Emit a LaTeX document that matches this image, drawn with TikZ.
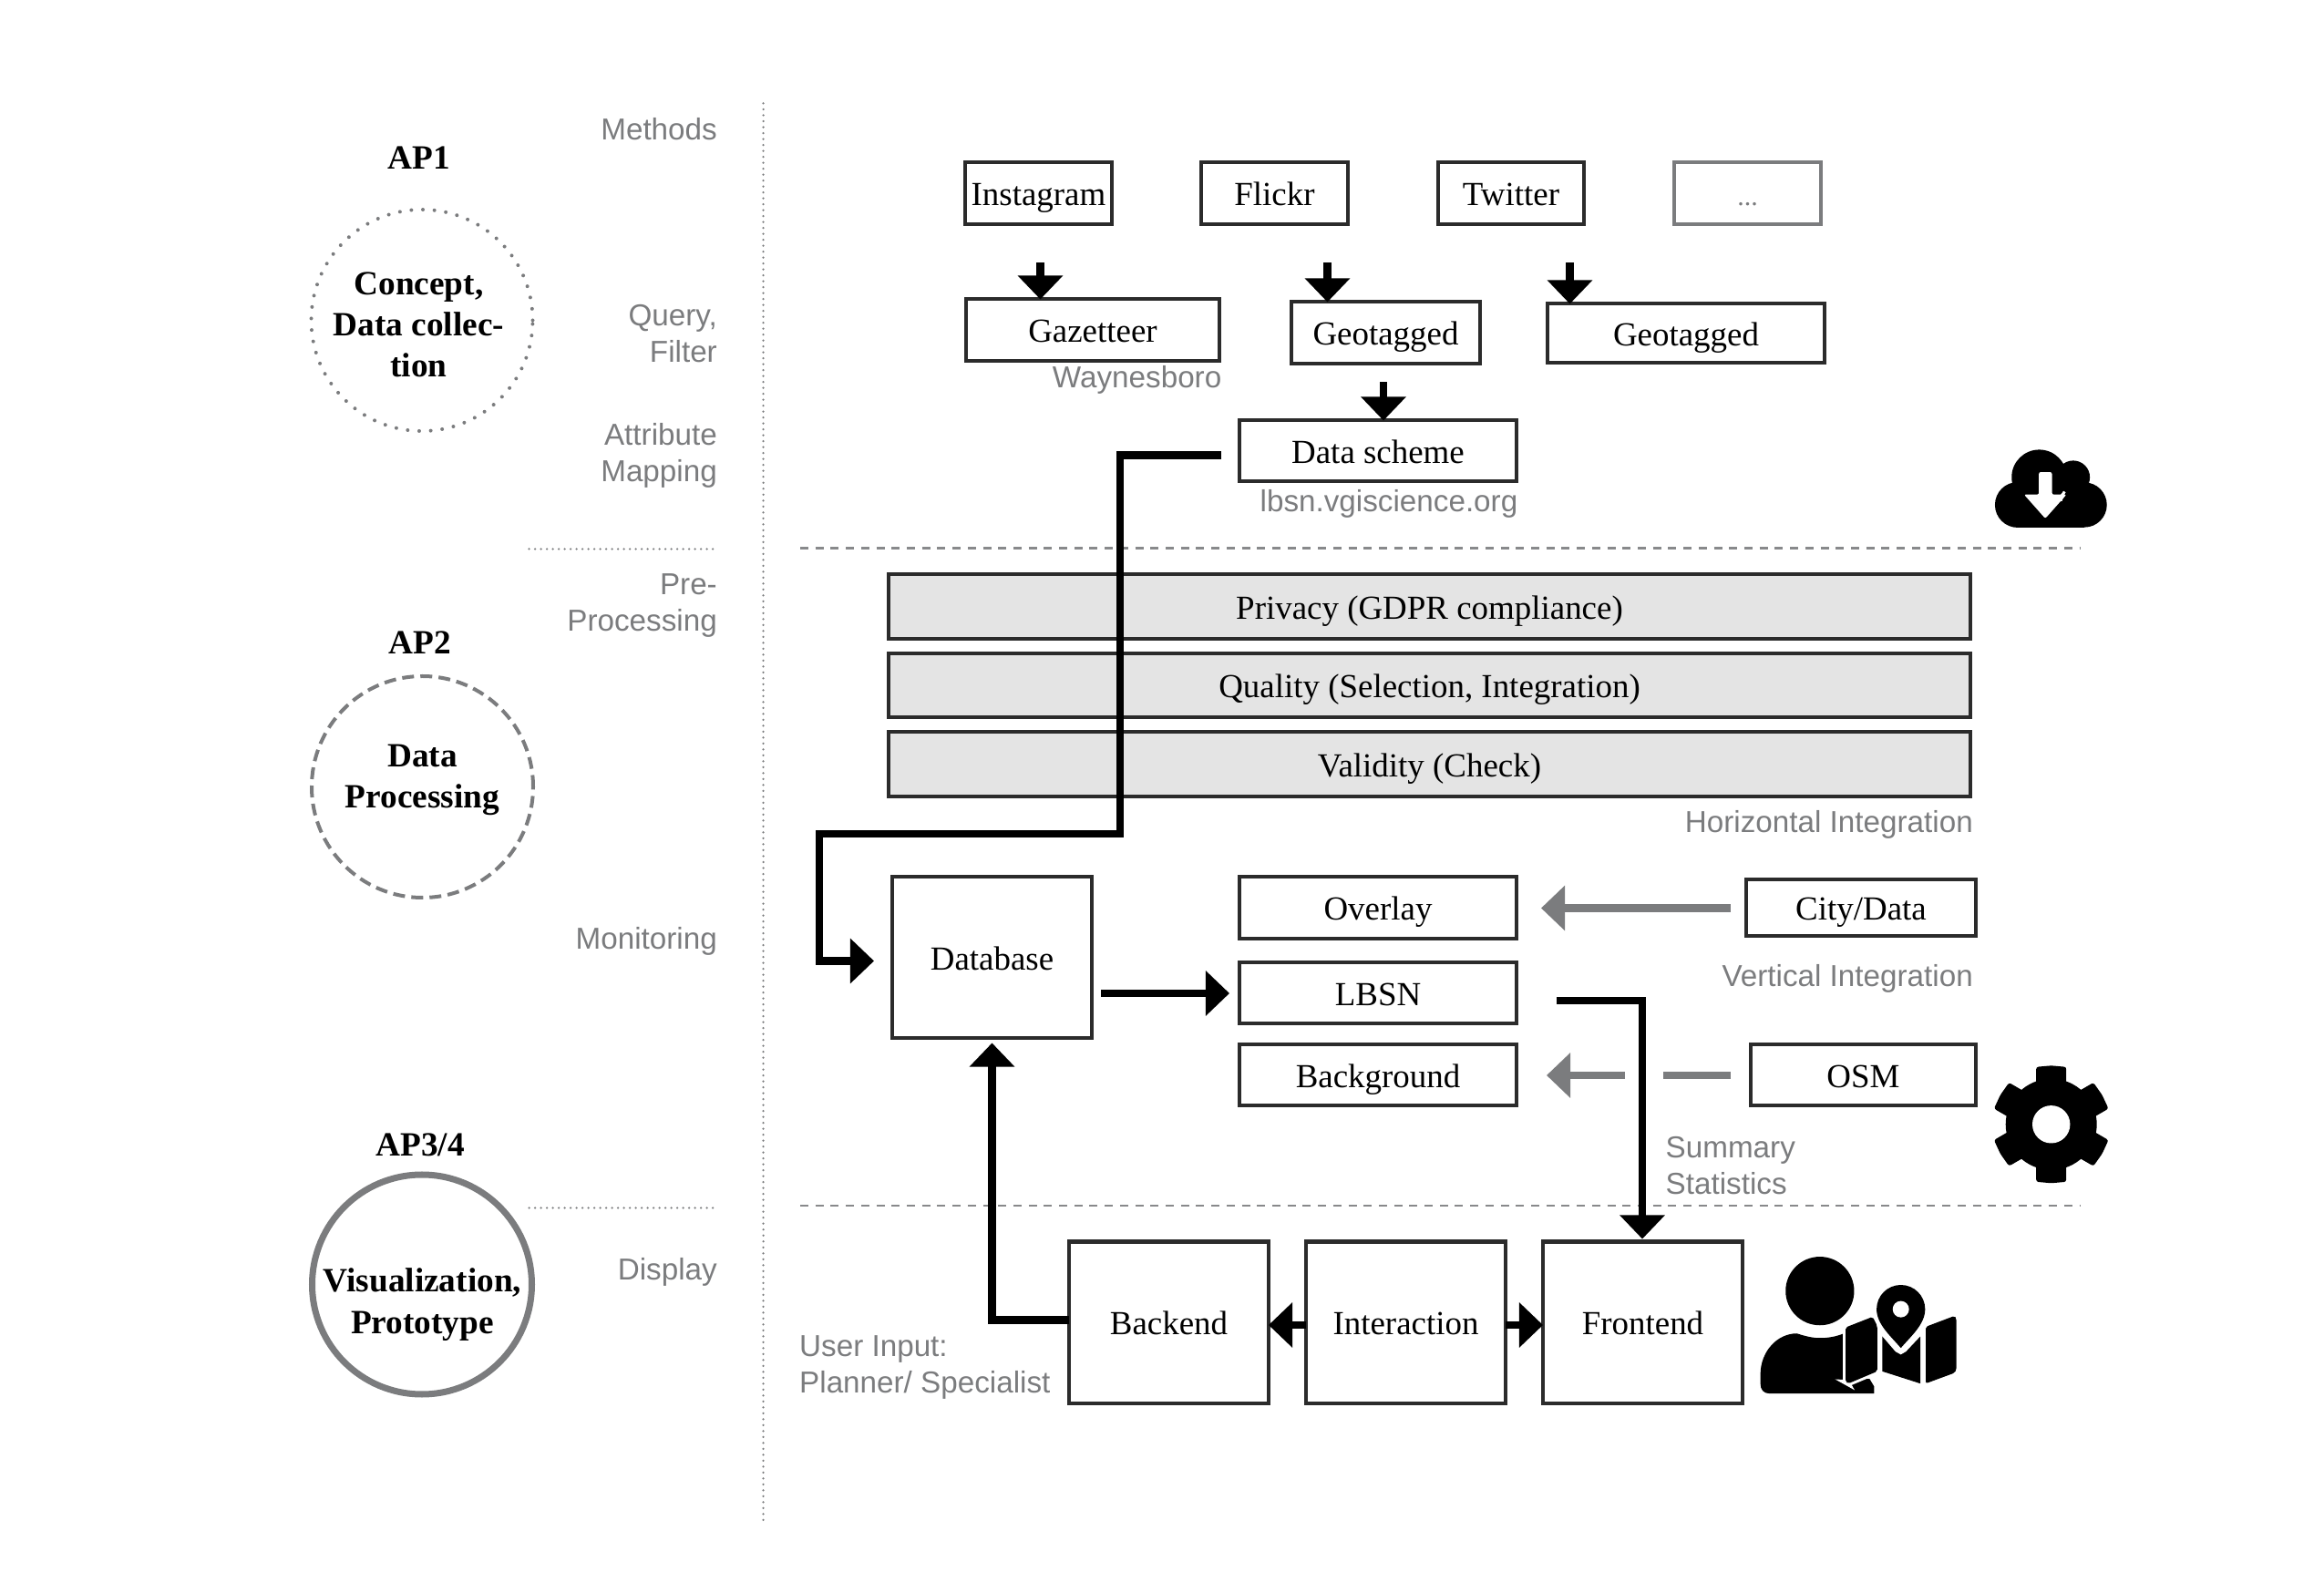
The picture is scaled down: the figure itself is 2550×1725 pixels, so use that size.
\documentclass[tikz,border=0pt]{standalone}
\usepackage{fontspec}
\setmainfont{Liberation Serif}
\setsansfont{Liberation Sans}
\usetikzlibrary{arrows.meta,calc}

\definecolor{boxline}{HTML}{2B2B2B}
\definecolor{softgray}{HTML}{7B7C7E}
\definecolor{barfill}{HTML}{E4E4E4}

\tikzset{
    mybox/.style 2 args={draw=boxline, line width=0.04cm, fill=white, inner sep=0pt, outer sep=0pt,
        minimum width=#1*0.01cm, minimum height=#2*0.01cm, text height=7.4pt, text depth=0pt,
        font=\fontsize{10.5pt}{12.8pt}\selectfont},
    graybox/.style={draw=softgray, text=softgray, font=\fontsize{8.5pt}{10pt}\selectfont},
    bar/.style={fill=barfill},
    graylabel/.style={font=\fontsize{9.45pt}{11.38pt}\selectfont\sffamily, text=softgray, inner sep=0pt, yshift=0.01cm},
    apname/.style={font=\fontsize{10.6pt}{12.8pt}\selectfont\bfseries, inner sep=0pt, align=center},
    apring/.style={circle, draw=softgray, inner sep=0pt, outer sep=0pt, minimum size=#1*0.01cm},
    dotring/.style={line width=0.04cm, line cap=round, dash pattern=on 0pt off 0.1265cm},
    dashring/.style={line width=0.04cm, dash pattern=on 0.13cm off 0.07cm},
    solidring/.style={line width=0.07cm},
    finedots/.style={draw=softgray, line width=0.025cm, line cap=round, dash pattern=on 0pt off 0.065cm},
    finedash/.style={draw=softgray!90, line width=0.025cm, dash pattern=on 0.09cm off 0.077cm},
    flowline/.style={line width=0.085cm},
    flowarrow/.style={flowline, -{Triangle[width=0.48cm, length=0.26cm]}},
    grayline/.style={flowline, draw=softgray},
    grayarrow/.style={grayline, -{Triangle[width=0.48cm, length=0.26cm]}, softgray},
    zoomed/.style={shift={#1}, x=0.003333cm, y=-0.003333cm},
}

\begin{document}
\begin{tikzpicture}[x=0.01cm, y=-0.01cm]
    \useasboundingbox (0, -1.5) rectangle (2550, 1723.5);

    \begin{scope}
        \draw (463, 350) node[apring=243, dotring] (concept) {};
        \draw (463.5, 862) node[apring=243, dashring] (processing) {};
        \draw (463, 1408) node[apring=241, solidring] (visual) {};
        \draw (459.5, 184) node[apname, anchor=base] (apone) {AP1};
        \draw (460.5, 716) node[apname, anchor=base] (aptwo) {AP2};
        \draw (461, 1267.5) node[apname, anchor=base] (apthree) {AP3/4};
        \draw (459.5, 412) node[apname, anchor=base] (concepttext) {Concept,\\Data collec-\\tion};
        \draw (463.5, 885) node[apname, anchor=base] (processingtext) {Data\\Processing};
        \draw (463.5, 1461.5) node[apname, anchor=base] (visualtext) {Visualization,\\Prototype};
    \end{scope}

    \begin{scope}
        \draw (787.5, 153) node[graylabel, anchor=base east] (methods) {Methods};
        \draw (787.5, 397.5) node[graylabel, anchor=base east, align=right] (query) {Query,\\Filter};
        \draw (787.5, 528) node[graylabel, anchor=base east, align=right] (attribute) {Attribute\\Mapping};
        \draw (787.5, 692) node[graylabel, anchor=base east, align=right] (pre) {Pre-\\Processing};
        \draw (787.5, 1041) node[graylabel, anchor=base east] (monitoring) {Monitoring};
        \draw (787.5, 1404) node[graylabel, anchor=base east] (display) {Display};
        \coordinate (sepleft) at (580.5, 601);
        \coordinate (sepright) at (788, 601);
        \coordinate (sepleftb) at (580.5, 1324);
        \coordinate (seprightb) at (788, 1324);
        \coordinate (coltop) at (837.5, 112);
        \coordinate (colbottom) at (837.5, 1672);
        \draw[finedots] (sepleft) -- (sepright);
        \draw[finedots] (sepleftb) -- (seprightb);
        \draw[finedots] (coltop) -- (colbottom);
        \coordinate (dashstart) at (878, 600);
        \coordinate (dashend) at (2283, 600);
        \coordinate (dashstartb) at (878, 1321.7);
        \coordinate (dashendb) at (2283, 1321.7);
        \draw[finedash] (dashstart) -- (dashend);
        \draw[finedash] (dashstartb) -- (dashendb);
    \end{scope}

    \begin{scope}
        \draw (1139.5, 211) node[mybox={161}{68}] (instagram) {Instagram};
        \draw (1398.5, 211) node[mybox={161}{68}] (flickr) {Flickr};
        \draw (1658, 211) node[mybox={160}{68}] (twitter) {Twitter};
        \draw (1917.5, 211) node[mybox={161}{68}, graybox] (others) {...};
        \draw (1199, 361) node[mybox={278}{68}] (gazetteer) {Gazetteer};
        \draw (1520.5, 364) node[mybox={207}{68}] (geotaggeda) {Geotagged};
        \draw (1850, 364.5) node[mybox={304}{65}] (geotaggedb) {Geotagged};
        \draw (1512, 493.5) node[mybox={304}{67}] (scheme) {Data scheme};
        \draw (1568.5, 664.5) node[mybox={1187}{71}, bar] (privacy) {Privacy (GDPR compliance)};
        \draw (1568.5, 751) node[mybox={1187}{70}, bar] (quality) {Quality (Selection, Integration)};
        \draw (1568.5, 837.5) node[mybox={1187}{71}, bar] (validity) {Validity (Check)};
        \draw (1088.5, 1049.5) node[mybox={219}{177}] (database) {Database};
        \draw (1512, 995) node[mybox={304}{68}] (overlay) {Overlay};
        \draw (1512, 1088.5) node[mybox={304}{67}] (lbsn) {LBSN};
        \draw (1512, 1178.5) node[mybox={304}{67}] (background) {Background};
        \draw (2042, 995) node[mybox={252}{62}] (citydata) {City/Data};
        \draw (2044.5, 1178.5) node[mybox={247}{67}] (osm) {OSM};
        \draw (1282.5, 1449.5) node[mybox={219}{177}] (backend) {Backend};
        \draw (1542.5, 1449.5) node[mybox={219}{177}] (interaction) {Interaction};
        \draw (1802.5, 1449.5) node[mybox={219}{177}] (frontend) {Frontend};
    \end{scope}

    \begin{scope}
        \draw (1341, 425) node[graylabel, anchor=base east] (waynesboro) {Waynesboro};
        \draw (1666, 560.7) node[graylabel, anchor=base east] (website) {lbsn.vgiscience.org};
        \draw (2165.5, 913) node[graylabel, anchor=base east] (horizontal) {Horizontal Integration};
        \draw (2165.5, 1081.7) node[graylabel, anchor=base east] (vertical) {Vertical Integration};
        \draw (1827, 1310) node[graylabel, anchor=base west, align=left] (summary) {Summary\\Statistics};
        \draw (876.5, 1528) node[graylabel, anchor=base west, align=left] (userinput) {User Input:\\Planner/ Specialist};
    \end{scope}

    \begin{scope}
        \coordinate (instaout) at ($(instagram.south) + (2, 42)$);
        \coordinate (flickrout) at ($(flickr.south) + (58, 42)$);
        \coordinate (twitterout) at ($(twitter.south) + (64.5, 42)$);
        \coordinate (geoout) at ($(geotaggeda.south) + (-2.5, 20)$);
        \draw[flowarrow] (instaout) -- (instaout |- gazetteer.north);
        \draw[flowarrow] (flickrout) -- (flickrout |- geotaggeda.north);
        \draw[flowarrow] (twitterout) -- (twitterout |- geotaggedb.north);
        \draw[flowarrow] (geoout) -- (geoout |- scheme.north);

        \coordinate (schemeout) at ($(scheme.west) + (-20, 4.5)$);
        \coordinate (dbin) at ($(database.west) + (-20, 3.5)$);
        \draw[flowarrow] (schemeout) -- ++(-111, 0) -- ++(0, 415.5) -- ++(-330, 0) |- (dbin);

        \coordinate (dbout) at ($(database.east) + (10, 39)$);
        \coordinate (lbsnin) at ($(lbsn.west) + (-11, 0)$);
        \draw[flowarrow] (dbout) -- (lbsnin);

        \coordinate (lbsnout) at ($(lbsn.east) + (44, 8)$);
        \coordinate (frontin) at ($(frontend.north) + (-0.5, -3)$);
        \draw[flowarrow] (lbsnout) -| (frontin);

        \coordinate (backout) at ($(backend.west) + (0, -2.5)$);
        \coordinate (dbunder) at ($(database.south) + (0, 5)$);
        \draw[flowarrow] (backout) -| (dbunder);

        \coordinate (interout) at ($(interaction.west) + (0, 3)$);
        \coordinate (interoutb) at ($(interaction.east) + (0, 3)$);
        \draw[flowarrow] (interout) -- (interout -| backend.east);
        \draw[flowarrow] (interoutb) -- (interoutb -| frontend.west);

        \coordinate (cityout) at ($(citydata.west) + (-17, 0)$);
        \coordinate (overlayin) at ($(overlay.east) + (27, 0)$);
        \draw[grayarrow] (cityout) -- (overlayin);

        \coordinate (osmout) at ($(osm.west) + (-22, 0)$);
        \coordinate (gapright) at ($(osm.west) + (-96, 0)$);
        \coordinate (gapleft) at ($(background.east) + (119, 0)$);
        \coordinate (backgroundin) at ($(background.east) + (33, 0)$);
        \draw[grayline] (osmout) -- (gapright);
        \draw[grayarrow] (gapleft) -- (backgroundin);
    \end{scope}

    \begin{scope}[zoomed={(2150, 449)}]
        \fill (192, 311) circle (75);
        \fill (412, 311) circle (74);
        \fill (263, 220) circle (91);
        \fill (375, 220) circle (55);
        \fill (192, 300) rectangle (412, 386);
        \fill[white, rounded corners=0.02cm] (262, 203) -- (305, 203) -- (305, 277) -- (353, 277)
            -- (283, 356) -- (213, 277) -- (262, 277) -- cycle;
    \end{scope}

    \begin{scope}[shift={(2250.7, 1232.3)}]
        \fill (0, 0) circle (50);
        \foreach \a in {0, 60, 120, 180, 240, 300} {
            \fill[rotate around={\a:(0, 0)}, rounded corners=0.025cm]
                (-16.5, -40) -- (-16.5, -63) -- (0, -64.5) -- (16.5, -63) -- (16.5, -40) -- cycle;
        }
        \fill[white] (0, 0) circle (20.7);
    \end{scope}

    \begin{scope}[zoomed={(1900, 1099)}]
        \fill (291, 950) circle (113);
        \fill (95, 1225) .. controls (95, 1150) and (150, 1090) .. (215, 1090)
            .. controls (240, 1098) and (265, 1105) .. (291, 1105)
            .. controls (320, 1105) and (345, 1100) .. (370, 1090)
            -- (370, 1240) -- (455, 1240) -- (470, 1265) -- (470, 1288) -- (125, 1288)
            .. controls (105, 1288) and (95, 1275) .. (95, 1255) -- cycle;
        \fill[preaction={draw=white, line width=0.06cm}, rounded corners=0.02cm]
            (376, 1070) -- (465, 1035) -- (480, 1065) -- (480, 1215) -- (385, 1255) -- (376, 1250) -- cycle;
        \fill (497, 1100) -- (540, 1150) -- (558, 1160) -- (575, 1150) -- (622, 1100) -- (622, 1255) -- (497, 1215) -- cycle;
        \fill[rounded corners=0.02cm] (640, 1068) -- (735, 1032) -- (741, 1040) -- (741, 1210) -- (735, 1220) -- (640, 1255) -- cycle;
        \fill (478, 1010) arc[start angle=180, end angle=360, radius=80]
            .. controls (638, 1060) and (590, 1100) .. (558, 1138)
            .. controls (526, 1100) and (478, 1060) .. (478, 1010) -- cycle;
        \fill[white] (558, 1010) circle (27);
    \end{scope}
\end{tikzpicture}
\end{document}
